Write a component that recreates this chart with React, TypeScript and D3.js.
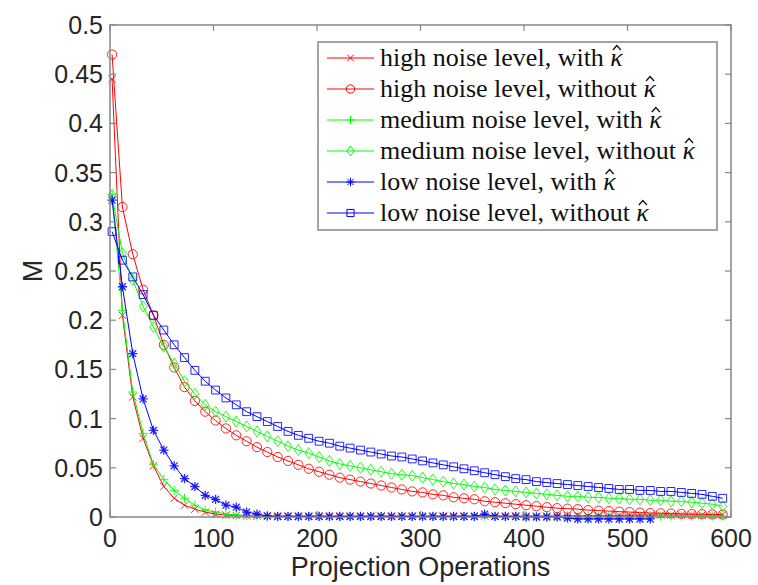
import React, { useLayoutEffect, useRef, useState } from "react";
import * as d3 from "d3";

// x values (projection operations) shared by all series
const projOps = [
  2, 12, 22, 32, 42, 52, 62, 72, 82, 92,
  102, 112, 122, 132, 142, 152, 162, 172, 182, 192,
  202, 212, 222, 232, 242, 252, 262, 272, 282, 292,
  302, 312, 322, 332, 342, 352, 362, 372, 382, 392,
  402, 412, 422, 432, 442, 452, 462, 472, 482, 492,
  502, 512, 522, 532, 542, 552, 562, 572, 582, 592,
];

const highWith = [
  0.445, 0.205, 0.122, 0.080, 0.052, 0.031, 0.019, 0.012, 0.008, 0.005,
  0.003, 0.002, 0.0015, 0.001, 0.001, 0.001, 0.001, 0.001, 0.001, 0.001,
  0.001, 0.001, 0.001, 0.001, 0.001, 0.001, 0.001, 0.001, 0.001, 0.001,
  0.001, 0.001, 0.001, 0.001, 0.001, 0.001, 0.001, 0.001, 0.001, 0.001,
  0.001, 0.001, 0.001, 0.001, 0.001, 0.0012, 0.0012, 0.0015, 0.0015, 0.0015,
  0.0018, 0.002, 0.002, 0.002, 0.002, 0.002, 0.002, 0.002, 0.002, 0.002,
];

const highWithout = [
  0.470, 0.315, 0.267, 0.231, 0.205, 0.175, 0.152, 0.132, 0.118, 0.107,
  0.098, 0.090, 0.083, 0.077, 0.071, 0.066, 0.061, 0.057, 0.053, 0.049,
  0.046, 0.043, 0.040, 0.038, 0.036, 0.034, 0.032, 0.030, 0.028, 0.026,
  0.025, 0.023, 0.022, 0.020, 0.019, 0.018, 0.016, 0.015, 0.014, 0.013,
  0.012, 0.011, 0.010, 0.009, 0.0085, 0.008, 0.007, 0.0065, 0.006, 0.0055,
  0.005, 0.0045, 0.004, 0.0038, 0.0035, 0.0032, 0.003, 0.0028, 0.0026, 0.0025,
];

const medWith = [
  0.328, 0.210, 0.127, 0.085, 0.053, 0.038, 0.027, 0.019, 0.012, 0.007,
  0.005, 0.003, 0.002, 0.0015, 0.001, 0.001, 0.001, 0.001, 0.001, 0.001,
  0.001, 0.001, 0.001, 0.001, 0.001, 0.001, 0.001, 0.001, 0.001, 0.001,
  0.001, 0.001, 0.001, 0.001, 0.001, 0.001, 0.001, 0.001, 0.001, 0.001,
  0.001, 0.001, 0.001, 0.001, 0.001, 0.001, 0.001, 0.001, 0.001, 0.001,
  0.001, 0.001, 0.001, 0.001, 0.001, 0.001, 0.001, 0.001, 0.001, 0.001,
];

const medWithout = [
  0.327, 0.268, 0.241, 0.214, 0.193, 0.173, 0.156, 0.138, 0.125, 0.114,
  0.107, 0.102, 0.097, 0.092, 0.087, 0.082, 0.077, 0.072, 0.068, 0.065,
  0.061, 0.057, 0.054, 0.052, 0.050, 0.048, 0.046, 0.044, 0.043, 0.042,
  0.040, 0.038, 0.036, 0.034, 0.033, 0.031, 0.030, 0.028, 0.027, 0.026,
  0.025, 0.024, 0.023, 0.022, 0.021, 0.021, 0.020, 0.020, 0.019, 0.019,
  0.018, 0.018, 0.017, 0.017, 0.016, 0.016, 0.015, 0.014, 0.013, 0.011,
];

const lowWith = [
  0.322, 0.234, 0.166, 0.120, 0.088, 0.068, 0.052, 0.039, 0.031, 0.022,
  0.018, 0.012, 0.010, 0.005, 0.003, 0.001, 0.0005, 0.0005, 0.0005, 0.0005,
  0.0005, 0.0005, 0.0005, 0.0005, 0.0005, 0.0005, 0.0005, 0.0005, 0.0005, 0.0005,
  0.0005, 0.0005, 0.0005, 0.0005, 0.0005, 0.0005, 0.003, 0.0005, 0.0005, 0.0005,
  0, 0, 0, 0, -0.001, -0.002, -0.002, -0.002, -0.002, -0.002,
  -0.002, -0.002, -0.002,
];

const lowWithout = [
  0.290, 0.261, 0.244, 0.226, 0.205, 0.190, 0.175, 0.162, 0.149, 0.138,
  0.129, 0.121, 0.114, 0.107, 0.102, 0.097, 0.092, 0.087, 0.083, 0.080,
  0.077, 0.075, 0.072, 0.070, 0.068, 0.066, 0.064, 0.062, 0.061, 0.059,
  0.057, 0.055, 0.053, 0.051, 0.049, 0.047, 0.045, 0.043, 0.041, 0.039,
  0.038, 0.036, 0.035, 0.034, 0.033, 0.032, 0.031, 0.030, 0.029, 0.028,
  0.028, 0.027, 0.027, 0.026, 0.026, 0.025, 0.024, 0.023, 0.021, 0.019,
];

const xTicks = [0, 100, 200, 300, 400, 500, 600];
const yTicks = [0, 0.05, 0.1, 0.15, 0.2, 0.25, 0.3, 0.35, 0.4, 0.45, 0.5];
const yTickLabels = ["0", "0.05", "0.1", "0.15", "0.2", "0.25", "0.3", "0.35", "0.4", "0.45", "0.5"];

type Marker = "x" | "o" | "+" | "d" | "*" | "s";

const series: { label: string; color: string; marker: Marker; values: number[] }[] = [
  { label: "high noise level, with ", color: "#ff0000", marker: "x", values: highWith },
  { label: "high noise level, without ", color: "#ff0000", marker: "o", values: highWithout },
  { label: "medium noise level, with ", color: "#00ff00", marker: "+", values: medWith },
  { label: "medium noise level, without ", color: "#00ff00", marker: "d", values: medWithout },
  { label: "low noise level, with ", color: "#0000ff", marker: "*", values: lowWith },
  { label: "low noise level, without ", color: "#0000ff", marker: "s", values: lowWithout },
];

const W = 758;
const H = 585;
const plot = { left: 110, right: 731, top: 25, bottom: 517 };
const axisColor = "#868686";
const textColor = "#262626";

function markerPath(m: Marker, r: number): string {
  const p = d3.path();
  if (m === "x" || m === "*") {
    const a = m === "*" ? r * 0.75 : r * 0.8;
    p.moveTo(-a, -a); p.lineTo(a, a);
    p.moveTo(-a, a); p.lineTo(a, -a);
  }
  if (m === "+" || m === "*") {
    p.moveTo(-r, 0); p.lineTo(r, 0);
    p.moveTo(0, -r); p.lineTo(0, r);
  }
  if (m === "o") {
    p.moveTo(r, 0); p.arc(0, 0, r, 0, Math.PI * 2);
  }
  if (m === "d") {
    p.moveTo(0, -r * 1.2); p.lineTo(r * 0.85, 0); p.lineTo(0, r * 1.2); p.lineTo(-r * 0.85, 0); p.closePath();
  }
  if (m === "s") {
    const a = r * 0.85;
    p.rect(-a, -a, 2 * a, 2 * a);
  }
  return p.toString();
}

export default function App() {
  const x = d3.scaleLinear().domain([0, 600]).range([plot.left, plot.right]);
  const y = d3.scaleLinear().domain([0, 0.5]).range([plot.bottom, plot.top]);

  const line = d3
    .line<[number, number]>()
    .x(d => x(d[0]))
    .y(d => y(d[1]));

  const legend = { x: 318, y: 42, w: 399, h: 188, rowH: 31, firstRow: 58, textX: 380 };

  // measure legend texts so the hat can sit over the kappa
  const textRefs = useRef<(SVGTextElement | null)[]>([]);
  const [widths, setWidths] = useState<number[]>([]);
  useLayoutEffect(() => {
    setWidths(textRefs.current.map(t => (t ? t.getComputedTextLength() : 0)));
  }, []);

  return (
    <svg
      width={W}
      height={H}
      style={{ position: "absolute", left: 0, top: 0, background: "#fff" }}
    >
      <rect x={0} y={0} width={W} height={H} fill="#fff" />

      {/* series */}
      {series.map(s => {
        const pts = s.values.map((v, i) => [projOps[i], v] as [number, number]);
        const mp = markerPath(s.marker, 4.6);
        return (
          <g key={s.label + s.marker}>
            <path d={line(pts) ?? ""} fill="none" stroke={s.color} strokeWidth={1} />
            {pts.map((p, i) => (
              <path
                key={i}
                d={mp}
                transform={`translate(${x(p[0])},${y(p[1])})`}
                fill="none"
                stroke={s.color}
                strokeWidth={s.marker === "*" ? 1.3 : 1}
                strokeOpacity={0.85}
              />
            ))}
          </g>
        );
      })}

      {/* axes box */}
      <rect
        x={plot.left}
        y={plot.top}
        width={plot.right - plot.left}
        height={plot.bottom - plot.top}
        fill="none"
        stroke={axisColor}
        strokeWidth={1.5}
      />

      {/* x ticks */}
      {xTicks.map(t => (
        <g key={"x" + t}>
          <line x1={x(t)} x2={x(t)} y1={plot.bottom} y2={plot.bottom - 6} stroke={axisColor} strokeWidth={1.2} />
          <line x1={x(t)} x2={x(t)} y1={plot.top} y2={plot.top + 6} stroke={axisColor} strokeWidth={1.2} />
          <text
            x={x(t)}
            y={plot.bottom + 30}
            textAnchor="middle"
            fontFamily="'Liberation Sans', Arial, sans-serif"
            fontSize={25}
            fill={textColor}
          >
            {t}
          </text>
        </g>
      ))}

      {/* y ticks */}
      {yTicks.map((t, i) => (
        <g key={"y" + t}>
          <line x1={plot.left} x2={plot.left + 6} y1={y(t)} y2={y(t)} stroke={axisColor} strokeWidth={1.2} />
          <line x1={plot.right} x2={plot.right - 6} y1={y(t)} y2={y(t)} stroke={axisColor} strokeWidth={1.2} />
          <text
            x={plot.left - 7}
            y={y(t) + 9}
            textAnchor="end"
            fontFamily="'Liberation Sans', Arial, sans-serif"
            fontSize={25}
            fill={textColor}
          >
            {yTickLabels[i]}
          </text>
        </g>
      ))}

      {/* axis labels */}
      <text
        x={(plot.left + plot.right) / 2}
        y={576}
        textAnchor="middle"
        fontFamily="'Liberation Sans', Arial, sans-serif"
        fontSize={27}
        fill={textColor}
      >
        Projection Operations
      </text>
      <text
        transform={`translate(42,${(plot.top + plot.bottom) / 2}) rotate(-90)`}
        textAnchor="middle"
        fontFamily="'Liberation Sans', Arial, sans-serif"
        fontSize={27}
        fill={textColor}
      >
        M
      </text>

      {/* legend */}
      <g>
        <rect
          x={legend.x}
          y={legend.y}
          width={legend.w}
          height={legend.h}
          fill="#fff"
          stroke={axisColor}
          strokeWidth={1.5}
        />
        {series.map((s, i) => {
          const cy = legend.firstRow + i * legend.rowH;
          const base = cy + 8;
          const w = widths[i];
          // kappa glyph is ~13px wide at this size; hat centred over it
          const hx = w ? legend.textX + w - 6 : 0;
          return (
            <g key={"lg" + i}>
              <line x1={327} x2={374} y1={cy} y2={cy} stroke={s.color} strokeWidth={1} />
              <path
                d={markerPath(s.marker, 4.2)}
                transform={`translate(350.5,${cy})`}
                fill="none"
                stroke={s.color}
                strokeWidth={1}
              />
              <text
                ref={el => {
                  textRefs.current[i] = el;
                }}
                x={legend.textX}
                y={base}
                fontFamily="'Liberation Serif', 'Times New Roman', serif"
                fontSize={26}
                fill="#111"
              >
                {s.label}
                <tspan fontStyle="italic">{"\u03BA"}</tspan>
              </text>
              {w ? (
                <path
                  d={`M${hx - 4},${base - 16} L${hx},${base - 20.5} L${hx + 4},${base - 16}`}
                  fill="none"
                  stroke="#111"
                  strokeWidth={1.3}
                />
              ) : null}
            </g>
          );
        })}
      </g>
    </svg>
  );
}
